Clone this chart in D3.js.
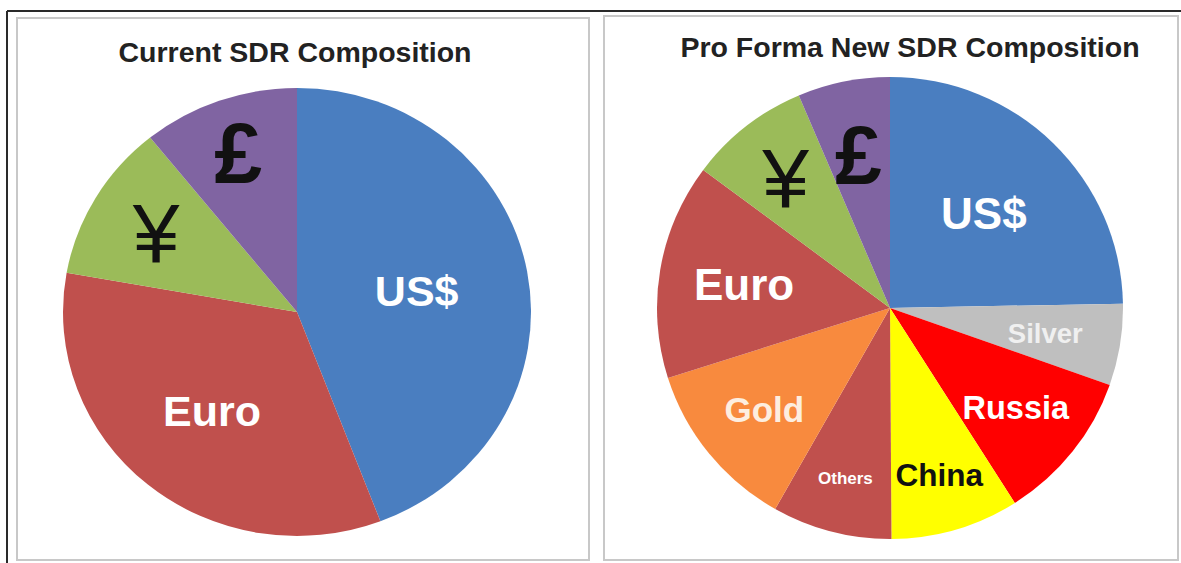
<!DOCTYPE html>
<html>
<head>
<meta charset="utf-8">
<style>
body { margin: 0; background: #fff; }
text { font-family: "Liberation Sans", Arial, sans-serif; }
</style>
</head>
<body>
<script src="https://cdn.jsdelivr.net/npm/d3@7"></script>
<script>
// chart data (percent of basket)
var currentLabels = ['US$', 'Euro', '\u00A5', '\u00A3']
var currentValues = [44.2, 33.6, 11.4, 10.8]
var currentColors = ['#4a7ec0', '#c0504d', '#9bbb59', '#8064a2']

var newLabels = ['US$', 'Silver', 'Russia', 'China', 'Others', 'Gold', 'Euro', '\u00A5', '\u00A3']
var newValues = [24.7, 5.7, 10.6, 8.9, 8.3, 11.9, 15.1, 8.4, 6.4]
var newColors = ['#4a7ec0', '#bfbfbf', '#ff0000', '#ffff00', '#c0504d', '#f88a3e', '#c0504d', '#9bbb59', '#8064a2']

var titles = ['Current SDR Composition', 'Pro Forma New SDR Composition']

// label styling (not data)
var currentLabelStyle = [
	{ r: 0.52, size: 43, fill: '#fff', weight: 'bold' },
	{ r: 0.57, size: 43, fill: '#fff', weight: 'bold' },
	{ r: 0.70, size: 84, fill: '#111', weight: 'normal' },
	{ r: 0.755, size: 86, fill: '#111', weight: 'bold' }
]
var newLabelStyle = [
	{ r: 0.575, size: 44, fill: '#fff', weight: 'bold' },
	{ r: 0.675, size: 27.5, fill: '#f0f0f0', weight: 'bold' },
	{ r: 0.69, size: 32.5, fill: '#fff', weight: 'bold' },
	{ r: 0.75, size: 31.5, fill: '#111', weight: 'bold' },
	{ r: 0.76, size: 17, fill: '#fff', weight: 'bold' },
	{ r: 0.695, size: 35, fill: '#fdeee0', weight: 'bold' },
	{ r: 0.635, size: 44, fill: '#fff', weight: 'bold' },
	{ r: 0.725, size: 84, fill: '#111', weight: 'normal' },
	{ r: 0.68, size: 84, fill: '#111', weight: 'bold' }
]

var svgWidth = 1181
var svgHeight = 563

var svg = d3.select('body').append('svg')
	.attr('width', svgWidth)
	.attr('height', svgHeight)

// frames
svg.append('line').attr('x1', 7).attr('y1', 11).attr('x2', svgWidth).attr('y2', 11)
	.attr('stroke', '#2a2a2a').attr('stroke-width', 2)
svg.append('line').attr('x1', 7).attr('y1', 11).attr('x2', 7).attr('y2', svgHeight)
	.attr('stroke', '#2a2a2a').attr('stroke-width', 2)
svg.append('rect').attr('x', 17).attr('y', 18).attr('width', 572).attr('height', 542)
	.attr('fill', 'none').attr('stroke', '#c8c8c8').attr('stroke-width', 2)
svg.append('rect').attr('x', 604).attr('y', 16).attr('width', 574).attr('height', 544)
	.attr('fill', 'none').attr('stroke', '#c8c8c8').attr('stroke-width', 2)

function drawPie(cfg) {
	var pie = d3.pie().sort(null).value(function(d) { return d })
	var arcs = pie(cfg.values)
	var sx = cfg.rx / cfg.ry
	var arc = d3.arc().innerRadius(0).outerRadius(cfg.ry)

	var g = svg.append('g')
		.attr('transform', 'translate(' + cfg.cx + ',' + cfg.cy + ') scale(' + sx + ',1)')
	g.selectAll('path')
		.data(arcs)
		.enter().append('path')
		.attr('d', arc)
		.attr('fill', function(d, i) { return cfg.colors[i] })

	var lg = svg.append('g')
		.attr('transform', 'translate(' + cfg.cx + ',' + cfg.cy + ')')
	lg.selectAll('text')
		.data(arcs)
		.enter().append('text')
		.attr('x', function(d, i) {
			var a = (d.startAngle + d.endAngle) / 2
			return Math.sin(a) * cfg.ry * cfg.style[i].r * sx
		})
		.attr('y', function(d, i) {
			var a = (d.startAngle + d.endAngle) / 2
			return -Math.cos(a) * cfg.ry * cfg.style[i].r
		})
		.attr('dy', '0.36em')
		.attr('text-anchor', 'middle')
		.attr('font-size', function(d, i) { return cfg.style[i].size })
		.attr('font-weight', function(d, i) { return cfg.style[i].weight })
		.attr('fill', function(d, i) { return cfg.style[i].fill })
		.text(function(d, i) { return cfg.labels[i] })

	svg.append('text')
		.attr('x', cfg.titleX)
		.attr('y', cfg.titleY)
		.attr('dy', '0.36em')
		.attr('text-anchor', 'middle')
		.attr('font-size', 28.5)
		.attr('font-weight', 'bold')
		.attr('fill', '#222')
		.text(cfg.title)
}

drawPie({
	cx: 297, cy: 312, rx: 234, ry: 224,
	values: currentValues, colors: currentColors, labels: currentLabels,
	style: currentLabelStyle, title: titles[0], titleX: 295, titleY: 52
})

drawPie({
	cx: 890, cy: 308, rx: 233, ry: 231,
	values: newValues, colors: newColors, labels: newLabels,
	style: newLabelStyle, title: titles[1], titleX: 910, titleY: 47
})
</script>
</body>
</html>
